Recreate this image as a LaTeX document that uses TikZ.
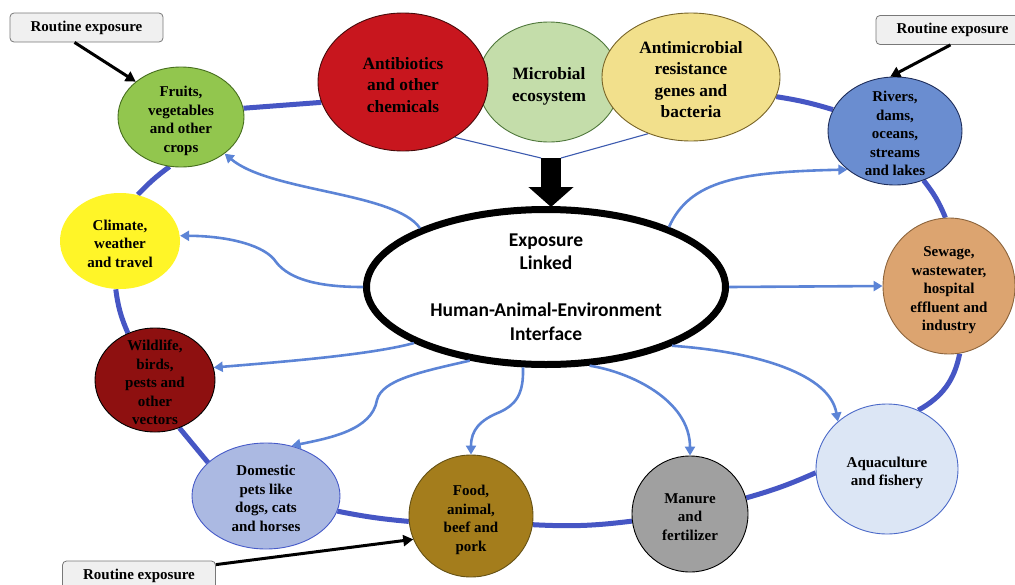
\documentclass[tikz,border=0pt]{standalone}
\usepackage{fontspec}
\setmainfont{Liberation Serif}
\newfontfamily\cali{Carlito}
\usetikzlibrary{shapes.geometric,arrows.meta,backgrounds}
\definecolor{ringc}{RGB}{70,86,196}
\definecolor{flowc}{RGB}{92,132,214}
\definecolor{vcol}{RGB}{60,90,175}
\definecolor{boxfill}{RGB}{240,240,240}
\definecolor{boxborder}{RGB}{120,120,120}
\definecolor{fruitc}{RGB}{146,198,78}
\definecolor{fruitb}{RGB}{70,110,30}
\definecolor{climc}{RGB}{255,245,40}
\definecolor{wildc}{RGB}{142,16,16}
\definecolor{domc}{RGB}{171,185,226}
\definecolor{domb}{RGB}{70,90,200}
\definecolor{foodc}{RGB}{164,125,28}
\definecolor{foodb}{RGB}{100,80,20}
\definecolor{manc}{RGB}{160,160,160}
\definecolor{aquac}{RGB}{220,230,245}
\definecolor{aquab}{RGB}{75,105,200}
\definecolor{sewc}{RGB}{220,164,112}
\definecolor{sewb}{RGB}{140,100,60}
\definecolor{rivc}{RGB}{106,141,208}
\definecolor{rivb}{RGB}{30,45,90}
\definecolor{antc}{RGB}{200,22,30}
\definecolor{antb}{RGB}{70,10,10}
\definecolor{micc}{RGB}{196,221,170}
\definecolor{micb}{RGB}{80,120,60}
\definecolor{amrc}{RGB}{242,224,140}
\definecolor{amrb}{RGB}{120,100,40}
\newcommand{\ctext}[2][-0.5em]{\smash{\makebox[0pt]{\raisebox{#1}{\begin{tabular}{@{}c@{}}#2\end{tabular}}}}}
\begin{document}
\begin{tikzpicture}[x=1pt,y=-1pt,
  blob/.style={ellipse,inner sep=0pt,line width=0.9pt,font=\bfseries\fontsize{15}{18.5}\selectfont},
  bigblob/.style={blob,font=\bfseries\fontsize{17.3}{21.5}\selectfont},
  ringline/.style={draw=ringc,line width=5pt},
  flow/.style={draw=flowc,line width=2.6pt,-{Triangle[length=9pt,width=10pt]}},
  routine/.style={draw=boxborder,fill=boxfill,rounded corners=4pt,minimum width=153pt,minimum height=29pt,inner sep=0pt,line width=0.8pt,font=\bfseries\fontsize{15}{18}\selectfont},
  blackarrow/.style={line width=3pt,-{Triangle[length=10pt,width=11pt]}},
  vline/.style={draw=vcol,line width=1.1pt}
]
\useasboundingbox (0,0) rectangle (1015,584);

% outer nodes
\node[blob,fill=fruitc,draw=fruitb,minimum width=126pt,minimum height=100pt] (fruits) at (181,117) {\ctext{Fruits,\\vegetables\\and other\\crops}};
\node[blob,fill=climc,draw=none,minimum width=120pt,minimum height=96pt] (climate) at (120,241) {\ctext{Climate,\\weather\\and travel}};
\node[blob,fill=wildc,draw=black,minimum width=120pt,minimum height=104pt] (wild) at (155,380) {\ctext{Wildlife,\\birds,\\pests and\\other\\vectors}};
\node[blob,fill=domc,draw=domb,minimum width=148pt,minimum height=106pt] (dom) at (266,496) {\ctext{Domestic\\pets like\\dogs, cats\\and horses}};
\node[blob,fill=foodc,draw=foodb,minimum width=124pt,minimum height=122pt] (food) at (471,516) {\ctext{Food,\\animal,\\beef and\\pork}};
\node[blob,fill=manc,draw=black,minimum width=116pt,minimum height=116pt] (manure) at (690,514) {\ctext{Manure\\and\\fertilizer}};
\node[blob,fill=aquac,draw=aquab,minimum width=142pt,minimum height=130pt] (aqua) at (887,469) {\ctext{Aquaculture\\and fishery}};
\node[blob,fill=sewc,draw=sewb,minimum width=132pt,minimum height=136pt] (sewage) at (949,286) {\ctext{Sewage,\\wastewater,\\hospital\\effluent and\\industry}};
\node[blob,fill=rivc,draw=rivb,minimum width=134pt,minimum height=108pt] (rivers) at (895,131) {\ctext{Rivers,\\dams,\\oceans,\\streams\\and lakes}};

% top ellipses
\node[bigblob,fill=micc,draw=micb,minimum width=142pt,minimum height=120pt] (mic) at (549,82) {\ctext{Microbial\\ecosystem}};
\node[bigblob,fill=antc,draw=antb,minimum width=170pt,minimum height=138pt] (anti) at (403,82) {\ctext{Antibiotics\\and other\\chemicals}};
\node[bigblob,fill=amrc,draw=amrb,minimum width=178pt,minimum height=128pt] (amr) at (691,77) {\ctext{Antimicrobial\\resistance\\genes and\\bacteria}};

% central ellipse
\node[ellipse,draw=black,fill=white,line width=7pt,minimum width=359pt,minimum height=155pt,inner sep=0pt,font=\cali\bfseries\fontsize{19.5}{23.5}\selectfont] (C) at (546,287) {\ctext[-0.35em]{Exposure\\Linked\\[23.5pt]Human-Animal-Environment\\Interface}};

% routine exposure boxes
\node[routine] (rtl) at (86.5,27.5) {Routine exposure};
\node[routine] (rtr) at (952.5,30) {Routine exposure};
\node[routine] (rbot) at (139,575.5) {Routine exposure};

\begin{scope}[on background layer]
% ring
\draw[ringline] (fruits.8) -- (anti.194);
\draw[ringline] (amr.-13) to[bend left=4] (rivers.161);
\draw[ringline] (rivers.-60) to[bend left=8] (sewage.93);
\draw[ringline] (sewage.-81) to[bend left=25] (aqua.62);
\draw[ringline] (aqua.183) to[bend left=4] (manure.16);
\draw[ringline] (manure.187) to[bend left=5] (food.-8);
\draw[ringline] (food.185) to[bend left=3] (dom.-12);
\draw[ringline] (dom.150) -- (wild.-63);
\draw[ringline] (wild.120) to[bend left=8] (climate.265);
\draw[ringline] (climate.69) to[bend left=5] (fruits.257);
% thin lines to big arrow
\coordinate (vt) at (551,158);
\coordinate (vb) at (551,207);
\draw[vline] (anti.-47) -- ([xshift=-10pt]vt);
\draw[vline] ([xshift=10pt]vt) -- (amr.233);
\end{scope}

% big arrow
\draw[line width=20pt,-{Triangle[length=20pt,width=44pt]}] (vt) -- (vb);

% flows
\draw[flow] (C.155) .. controls (395,192) and (270,192) .. (fruits.-40);
\draw[flow] (C.180) .. controls (320,287) and (290,280) .. (276,262) .. controls (266,246) and (230,236) .. (climate.5);
\draw[flow] (C.203) .. controls (370,355) and (280,362) .. (wild.12);
\draw[flow] (C.224) .. controls (420,372) and (382,380) .. (377,400) .. controls (372,430) and (330,438) .. (dom.63);
\draw[flow] (C.254) .. controls (524,395) and (515,405) .. (500,412) .. controls (480,420) and (471,430) .. (food.90);
\draw[flow] (C.299) .. controls (630,372) and (690,400) .. (manure.90);
\draw[flow] (C.335) .. controls (760,352) and (830,375) .. (aqua.136);
\draw[flow] (C.0) -- (sewage.180);
\draw[flow] (C.26) .. controls (690,180) and (740,172) .. (rivers.219);

% routine arrows
\draw[blackarrow] ([xshift=-12pt]rtl.south) -- (fruits.142);
\draw[blackarrow] ([xshift=-2pt]rtr.south) -- (rivers.95);
\draw[blackarrow] ([yshift=-4pt]rbot.north east) -- (food.202);
\end{tikzpicture}
\end{document}
